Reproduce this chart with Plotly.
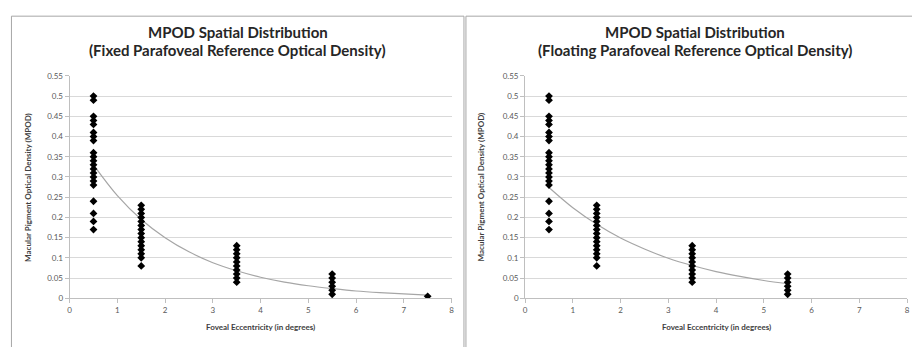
import plotly.graph_objects as go

# ---- data ----
ecc_05 = [0.50, 0.49, 0.45, 0.44, 0.43, 0.41, 0.40, 0.39, 0.36, 0.35, 0.34, 0.33,
          0.32, 0.31, 0.30, 0.29, 0.28, 0.24, 0.21, 0.19, 0.17]
ecc_15 = [0.23, 0.22, 0.21, 0.20, 0.19, 0.18, 0.17, 0.16, 0.15, 0.14, 0.13, 0.12,
          0.11, 0.10, 0.08]
ecc_35 = [0.13, 0.12, 0.11, 0.10, 0.09, 0.08, 0.07, 0.06, 0.05, 0.04]
ecc_55 = [0.06, 0.05, 0.04, 0.03, 0.02, 0.01]
ecc_75 = [0.005]

# trend line values
trend_x_fixed = [0.5, 1.0, 1.5, 2.0, 2.5, 3.0, 3.5, 4.0, 4.5, 5.0, 5.5, 6.0, 6.5, 7.0, 7.5]
trend_y_fixed = [0.330, 0.254, 0.195, 0.150, 0.115, 0.088, 0.068, 0.052, 0.040,
                 0.031, 0.024, 0.018, 0.014, 0.011, 0.008]
trend_x_float = [0.5, 1.0, 1.5, 2.0, 2.5, 3.0, 3.5, 4.0, 4.5, 5.0, 5.5]
trend_y_float = [0.274, 0.224, 0.183, 0.149, 0.122, 0.099, 0.081, 0.066, 0.054,
                 0.044, 0.036]

title_line1 = "MPOD Spatial Distribution"
title_line2 = ["(Fixed Parafoveal Reference Optical Density)",
               "(Floating Parafoveal Reference Optical Density)"]
x_title = "Foveal Eccentricity (in degrees)"
y_title = "Macular Pigment Optical Density (MPOD)"

W, H = 912, 347
FONT = "Lato, 'Open Sans', sans-serif"


def px_x(p):
    return p / W


def px_y(p):
    return 1 - p / H


def group_points(groups):
    xs, ys = [], []
    for xv, vals in groups:
        xs += [xv] * len(vals)
        ys += vals
    return xs, ys


fixed_x, fixed_y = group_points([(0.5, ecc_05), (1.5, ecc_15), (3.5, ecc_35),
                                 (5.5, ecc_55), (7.5, ecc_75)])
float_x, float_y = group_points([(0.5, ecc_05), (1.5, ecc_15), (3.5, ecc_35),
                                 (5.5, ecc_55)])

fig = go.Figure()

for i, (tx, ty, px, py) in enumerate([(trend_x_fixed, trend_y_fixed, fixed_x, fixed_y),
                                      (trend_x_float, trend_y_float, float_x, float_y)]):
    xa = "x" if i == 0 else "x2"
    ya = "y" if i == 0 else "y2"
    fig.add_trace(go.Scatter(x=tx, y=ty, mode="lines", line=dict(color="#a6a6a6", width=1.2,
                                                                  shape="spline"),
                             xaxis=xa, yaxis=ya, showlegend=False, hoverinfo="skip"))
    fig.add_trace(go.Scatter(x=px, y=py, mode="markers",
                             marker=dict(symbol="diamond", size=6, color="black"),
                             xaxis=xa, yaxis=ya, showlegend=False))

ydom = [px_y(302), px_y(73)]
xdoms = [[px_x(68), px_x(452)], [px_x(526), px_x(910)]]
title_cx = [px_x(237), px_x(697)]
ytitle_x = [px_x(26), px_x(482)]

tickfont = dict(family=FONT, size=8, color="#595959")
titlefont = dict(family=FONT, size=8, color="#404040", weight="bold")

axis_common_x = dict(range=[0, 8], dtick=1, showgrid=False, zeroline=False, showline=True,
                     linecolor="#bfbfbf", linewidth=1, ticks="outside", ticklen=4,
                     tickcolor="#bfbfbf", tickfont=tickfont, fixedrange=True)
axis_common_y = dict(range=[0, 0.55], dtick=0.05, showgrid=True, gridcolor="#d9d9d9",
                     gridwidth=1, zeroline=False, showline=True, linecolor="#bfbfbf",
                     linewidth=1, ticks="outside", ticklen=4, tickcolor="#bfbfbf",
                     tickfont=tickfont, fixedrange=True)

fig.update_layout(
    width=W, height=H, margin=dict(l=0, r=0, t=0, b=0),
    paper_bgcolor="white", plot_bgcolor="white",
    xaxis=dict(domain=xdoms[0], anchor="y", **axis_common_x),
    yaxis=dict(domain=ydom, anchor="x", **axis_common_y),
    xaxis2=dict(domain=xdoms[1], anchor="y2", **axis_common_x),
    yaxis2=dict(domain=ydom, anchor="x2", **axis_common_y),
)

big_font = dict(family=FONT, size=15, color="#262626", weight="bold")
annotations = []
for i in range(2):
    cx = (xdoms[i][0] + xdoms[i][1]) / 2
    annotations.append(dict(text=title_line1, x=title_cx[i], y=px_y(28), xref="paper",
                            yref="paper", showarrow=False, xanchor="center",
                            yanchor="middle", font=big_font))
    annotations.append(dict(text=title_line2[i], x=title_cx[i], y=px_y(46), xref="paper",
                            yref="paper", showarrow=False, xanchor="center",
                            yanchor="middle", font=big_font))
    annotations.append(dict(text=x_title, x=cx, y=px_y(332), xref="paper", yref="paper",
                            showarrow=False, xanchor="center", yanchor="middle",
                            font=titlefont))
    annotations.append(dict(text=y_title, x=ytitle_x[i], y=(ydom[0] + ydom[1]) / 2,
                            xref="paper", yref="paper", showarrow=False, textangle=-90,
                            xanchor="center", yanchor="middle", font=titlefont))
fig.update_layout(annotations=annotations)

# panel borders
fig.add_shape(type="rect", xref="paper", yref="paper", x0=px_x(9.5), x1=px_x(464.5),
              y0=-0.1, y1=px_y(11.5), line=dict(color="#a6a6a6", width=1))
fig.add_shape(type="rect", xref="paper", yref="paper", x0=px_x(466.5), x1=1.1,
              y0=-0.1, y1=px_y(11.5), line=dict(color="#a6a6a6", width=1))

fig.write_html(
    "out.html",
    config={"displayModeBar": False},
    post_script="document.body.style.margin='0';document.body.style.overflow='hidden';"
                "document.documentElement.style.overflow='hidden';",
)
